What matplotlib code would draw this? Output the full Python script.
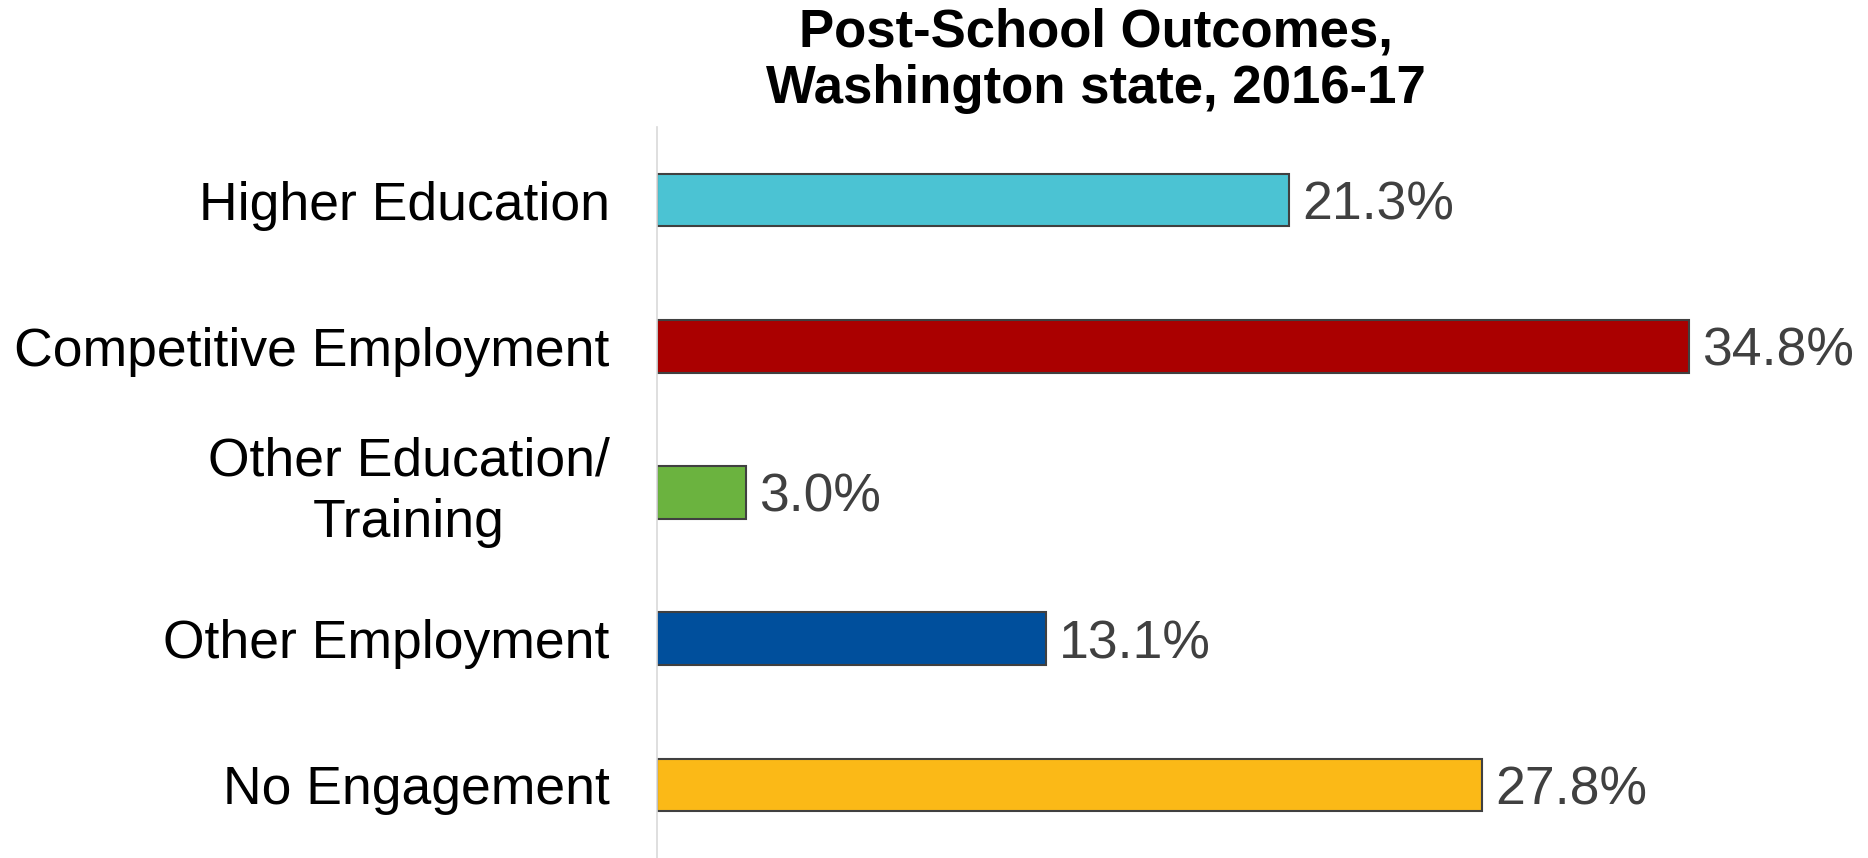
import matplotlib
matplotlib.use("Agg")
import matplotlib.pyplot as plt

categories = ["Higher Education", "Competitive Employment", "Other Education/\nTraining",
              "Other Employment", "No Engagement"]
values = [21.3, 34.8, 3.0, 13.1, 27.8]
colors = ["#4BC3D3", "#AA0000", "#6BB33F", "#004F9C", "#FBB917"]
title = "Post-School Outcomes,\nWashington state, 2016-17"

plt.rcParams["font.family"] = ["Liberation Sans", "DejaVu Sans"]

W, H = 1868, 858
fig = plt.figure(figsize=(W / 100, H / 100), dpi=100)
ax = fig.add_axes([657 / W, 0, (1860 - 657) / W, (858 - 127) / H])

ax.barh(range(len(values)), values, height=0.36, color=colors,
        edgecolor="#404040", linewidth=1.5)
for i, v in enumerate(values):
    ax.text(v + 0.45, i, f"{v:.1f}%", va="center_baseline", ha="left",
            fontsize=38.5, color="#404040")

ax.set_xlim(0, 40.56)
ax.set_ylim(4.5, -0.5)
ax.set_yticks(range(len(categories)))
ax.set_yticklabels(categories, fontsize=38.5, color="black")
for lab in ax.get_yticklabels():
    lab.set_multialignment("center")
    lab.set_linespacing(1.29)
    if "\n" in lab.get_text():
        lab.set_va("center")
ax.tick_params(axis="y", length=0, pad=34)
ax.set_xticks([])
for s in ["top", "right", "bottom"]:
    ax.spines[s].set_visible(False)
ax.spines["left"].set_color("#d9d9d9")
ax.spines["left"].set_linewidth(1.2)

fig.text(1096 / W, 1 - 61 / H, title, ha="center", va="center",
         fontsize=38, fontweight="bold", linespacing=1.16)

fig.savefig("out.png", dpi=100)
